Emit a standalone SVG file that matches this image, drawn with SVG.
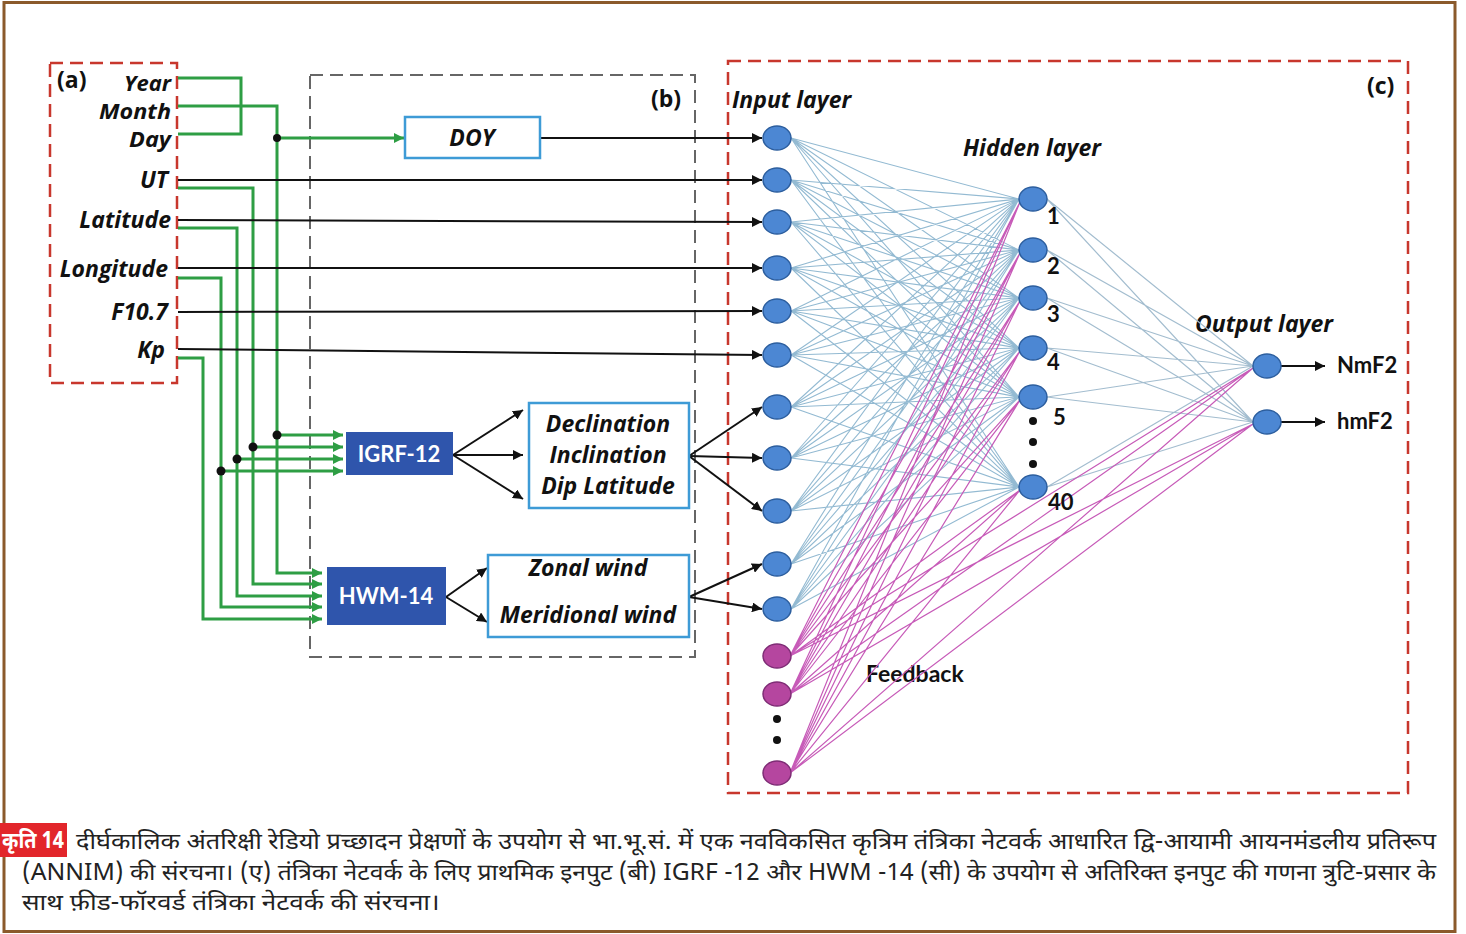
<svg xmlns="http://www.w3.org/2000/svg" width="1466" height="934" viewBox="0 0 1466 934">
<defs>
<style>
.lbl{font-family:"Open Sans","Liberation Sans",sans-serif;font-weight:bold;font-style:italic;font-size:23px;fill:#111}
.sm{font-size:20.5px}
.bt{font-family:Lato,"Liberation Sans",sans-serif;font-weight:bold;font-size:22px;fill:#111}
.pl{font-family:"Open Sans","Liberation Sans",sans-serif;font-weight:bold;font-size:23px;fill:#111}
.wt{font-family:Lato,"Liberation Sans",sans-serif;font-weight:bold;font-size:22px;fill:#fff}
.cap{font-family:"Noto Sans Devanagari","Lohit Devanagari","Noto Sans",sans-serif;font-size:23px;fill:#222}
.g{fill:none;stroke:#2E9E44;stroke-width:3}
.k{fill:none;stroke:#111;stroke-width:2}
.redbox{fill:none;stroke:#C8372D;stroke-width:2.5;stroke-dasharray:13 7}
.graybox{fill:none;stroke:#666;stroke-width:2;stroke-dasharray:13 7}
.lb{fill:#fff;stroke:#3E9BD6;stroke-width:2.5}
.db{fill:#2F55AC}
.bn{fill:#4C87D3;stroke:#2C5E9E;stroke-width:1.5}
.pn{fill:#B5469F;stroke:#7E2C75;stroke-width:1.5}
</style>
<marker id="ak" viewBox="0 0 10 10" refX="10" refY="5" markerWidth="5" markerHeight="5" orient="auto" markerUnits="strokeWidth"><path d="M0 0L10 5L0 10z" fill="#111"/></marker>
<marker id="ag" viewBox="0 0 10 10" refX="10" refY="5" markerWidth="3.5" markerHeight="3.5" orient="auto" markerUnits="strokeWidth"><path d="M0 0L10 5L0 10z" fill="#2E9E44"/></marker>
</defs>
<rect x="0" y="0" width="1466" height="934" fill="#fff"/>
<rect x="4" y="2.5" width="1451" height="929" fill="none" stroke="#8B5A2B" stroke-width="3"/>

<!-- boxes -->
<g id="box-a"><rect class="redbox" x="50" y="63" width="127" height="320"/>
<text class="pl" x="57" y="88">(a)</text>
<g text-anchor="end">
<text class="lbl sm" x="171" y="91" textLength="47" lengthAdjust="spacingAndGlyphs">Year</text>
<text class="lbl sm" x="171" y="119" textLength="72" lengthAdjust="spacingAndGlyphs">Month</text>
<text class="lbl sm" x="171" y="147" textLength="42" lengthAdjust="spacingAndGlyphs">Day</text>
<text class="lbl" x="168" y="188">UT</text>
<text class="lbl" x="171" y="228">Latitude</text>
<text class="lbl" x="168" y="277">Longitude</text>
<text class="lbl" x="168" y="320">F10.7</text>
<text class="lbl" x="165" y="358">Kp</text>
</g></g>
<g id="box-b"><rect class="graybox" x="310" y="75" width="385" height="582"/>
<text class="pl" x="651" y="107">(b)</text></g>
<g id="box-c"><rect class="redbox" x="728" y="61" width="680" height="732"/>
<text class="pl" x="1367" y="94">(c)</text>
<text class="lbl" x="732" y="108">Input layer</text>
<text class="lbl" x="963" y="156">Hidden layer</text>
<text class="lbl" x="1195" y="332">Output layer</text>
<text class="bt" x="866" y="682" style="font-size:23px">Feedback</text></g>

<!-- connectors -->
<g id="connectors">
<path d="M791 138L1019 199M791 138L1019 250M791 138L1019 298M791 138L1019 348M791 138L1019 397M791 138L1019 487M791 180L1019 199M791 180L1019 250M791 180L1019 298M791 180L1019 348M791 180L1019 397M791 180L1019 487M791 222L1019 199M791 222L1019 250M791 222L1019 298M791 222L1019 348M791 222L1019 397M791 222L1019 487M791 268L1019 199M791 268L1019 250M791 268L1019 298M791 268L1019 348M791 268L1019 397M791 268L1019 487M791 311L1019 199M791 311L1019 250M791 311L1019 298M791 311L1019 348M791 311L1019 397M791 311L1019 487M791 355L1019 199M791 355L1019 250M791 355L1019 298M791 355L1019 348M791 355L1019 397M791 355L1019 487M791 407L1019 199M791 407L1019 250M791 407L1019 298M791 407L1019 348M791 407L1019 397M791 407L1019 487M791 458L1019 199M791 458L1019 250M791 458L1019 298M791 458L1019 348M791 458L1019 397M791 458L1019 487M791 511L1019 199M791 511L1019 250M791 511L1019 298M791 511L1019 348M791 511L1019 397M791 511L1019 487M791 564L1019 199M791 564L1019 250M791 564L1019 298M791 564L1019 348M791 564L1019 397M791 564L1019 487M791 609L1019 199M791 609L1019 250M791 609L1019 298M791 609L1019 348M791 609L1019 397M791 609L1019 487" fill="none" stroke="#93BAD2" stroke-width="1.1"/>
<path d="M1047 199L1253 366M1047 199L1253 422M1047 250L1253 366M1047 250L1253 422M1047 298L1253 366M1047 298L1253 422M1047 348L1253 366M1047 348L1253 422M1047 397L1253 366M1047 397L1253 422M1047 487L1253 366M1047 487L1253 422" fill="none" stroke="#A3BDCF" stroke-width="1.2"/>
<path d="M790 656L1020 202M790 656L1020 253M790 656L1020 301M790 656L1020 351M790 656L1020 400M790 656L1020 490M790 656L1253 368M790 656L1253 424M790 694L1020 202M790 694L1020 253M790 694L1020 301M790 694L1020 351M790 694L1020 400M790 694L1020 490M790 694L1253 368M790 694L1253 424M790 773L1020 202M790 773L1020 253M790 773L1020 301M790 773L1020 351M790 773L1020 400M790 773L1020 490M790 773L1253 368M790 773L1253 424" fill="none" stroke="#C75BB8" stroke-width="1.2"/>

<path class="g" d="M178 78H241V134H178"/>
<path class="g" d="M178 106H277V573H322" marker-end="url(#ag)"/>
<path class="g" d="M277 138H404" marker-end="url(#ag)"/>
<path class="g" d="M178 188H253V584H322" marker-end="url(#ag)"/>
<path class="g" d="M178 228H237V596H322" marker-end="url(#ag)"/>
<path class="g" d="M178 278H221V607H322" marker-end="url(#ag)"/>
<path class="g" d="M178 358H203V619H322" marker-end="url(#ag)"/>
<path class="g" d="M277 435H343" marker-end="url(#ag)"/>
<path class="g" d="M253 447H343" marker-end="url(#ag)"/>
<path class="g" d="M237 459H343" marker-end="url(#ag)"/>
<path class="g" d="M221 471H343" marker-end="url(#ag)"/>
<g fill="#111"><circle cx="277" cy="138" r="4"/><circle cx="277" cy="435" r="4.5"/><circle cx="253" cy="447" r="4.5"/><circle cx="237" cy="459" r="4.5"/><circle cx="221" cy="471" r="4.5"/></g>

<path class="k" d="M540 138H762" marker-end="url(#ak)"/>
<path class="k" d="M178 180H762" marker-end="url(#ak)"/>
<path class="k" d="M178 220L762 222" marker-end="url(#ak)"/>
<path class="k" d="M178 268H762" marker-end="url(#ak)"/>
<path class="k" d="M178 312L762 311" marker-end="url(#ak)"/>
<path class="k" d="M178 349L762 355" marker-end="url(#ak)"/>
<path class="k" d="M453 455L523 410" marker-end="url(#ak)"/>
<path class="k" d="M453 455H523" marker-end="url(#ak)"/>
<path class="k" d="M453 455L523 499" marker-end="url(#ak)"/>
<path class="k" d="M446 597L487 568" marker-end="url(#ak)"/>
<path class="k" d="M446 597L487 622" marker-end="url(#ak)"/>
<path class="k" d="M689 456L762 407" marker-end="url(#ak)"/>
<path class="k" d="M689 456L762 458" marker-end="url(#ak)"/>
<path class="k" d="M689 456L762 511" marker-end="url(#ak)"/>
<path class="k" d="M689 597L762 564" marker-end="url(#ak)"/>
<path class="k" d="M689 597L762 609" marker-end="url(#ak)"/>
<path class="k" d="M1281 366H1325" marker-end="url(#ak)"/>
<path class="k" d="M1281 422H1325" marker-end="url(#ak)"/>
</g>

<!-- model nodes -->
<g id="doy"><rect class="lb" x="405" y="117" width="135" height="41"/><text class="lbl" x="472" y="146" text-anchor="middle">DOY</text></g>
<g id="igrf"><rect class="db" x="346" y="432" width="107" height="43"/><text class="wt" x="399" y="462" text-anchor="middle">IGRF-12</text></g>
<g id="hwm"><rect class="db" x="327" y="567" width="119" height="58"/><text class="wt" x="386" y="604" text-anchor="middle">HWM-14</text></g>
<g id="igrf-out"><rect class="lb" x="529" y="403" width="160" height="105"/>
<g text-anchor="middle"><text class="lbl" x="608" y="432">Declination</text><text class="lbl" x="608" y="463">Inclination</text><text class="lbl" x="608" y="494">Dip Latitude</text></g></g>
<g id="hwm-out"><rect class="lb" x="488" y="555" width="201" height="82"/>
<g text-anchor="middle"><text class="lbl" x="588" y="576">Zonal wind</text><text class="lbl" x="588" y="623">Meridional wind</text></g></g>

<!-- network nodes -->
<g id="input-layer">
<ellipse class="bn" cx="777" cy="138" rx="14" ry="12"/>
<ellipse class="bn" cx="777" cy="180" rx="14" ry="12"/>
<ellipse class="bn" cx="777" cy="222" rx="14" ry="12"/>
<ellipse class="bn" cx="777" cy="268" rx="14" ry="12"/>
<ellipse class="bn" cx="777" cy="311" rx="14" ry="12"/>
<ellipse class="bn" cx="777" cy="355" rx="14" ry="12"/>
<ellipse class="bn" cx="777" cy="407" rx="14" ry="12"/>
<ellipse class="bn" cx="777" cy="458" rx="14" ry="12"/>
<ellipse class="bn" cx="777" cy="511" rx="14" ry="12"/>
<ellipse class="bn" cx="777" cy="564" rx="14" ry="12"/>
<ellipse class="bn" cx="777" cy="609" rx="14" ry="12"/>
</g>
<g id="feedback-nodes">
<ellipse class="pn" cx="777" cy="656" rx="14" ry="12"/>
<ellipse class="pn" cx="777" cy="694" rx="14" ry="12"/>
<circle cx="777" cy="719" r="4" fill="#111"/><circle cx="777" cy="740" r="4" fill="#111"/>
<ellipse class="pn" cx="777" cy="773" rx="14" ry="12"/>
</g>
<g id="hidden-layer">
<ellipse class="bn" cx="1033" cy="199" rx="14" ry="12"/>
<ellipse class="bn" cx="1033" cy="250" rx="14" ry="12"/>
<ellipse class="bn" cx="1033" cy="298" rx="14" ry="12"/>
<ellipse class="bn" cx="1033" cy="348" rx="14" ry="12"/>
<ellipse class="bn" cx="1033" cy="397" rx="14" ry="12"/>
<ellipse class="bn" cx="1033" cy="487" rx="14" ry="12"/>
<circle cx="1033" cy="421" r="4" fill="#111"/><circle cx="1033" cy="442" r="4" fill="#111"/><circle cx="1033" cy="464" r="4" fill="#111"/>
<text class="bt" x="1047" y="224">1</text>
<text class="bt" x="1047" y="274">2</text>
<text class="bt" x="1047" y="322">3</text>
<text class="bt" x="1047" y="370">4</text>
<text class="bt" x="1053" y="425">5</text>
<text class="bt" x="1048" y="510">40</text>
</g>
<g id="output-layer">
<ellipse class="bn" cx="1267" cy="366" rx="14" ry="12"/>
<ellipse class="bn" cx="1267" cy="422" rx="14" ry="12"/>
<text class="bt" x="1337" y="373">NmF2</text>
<text class="bt" x="1337" y="429">hmF2</text>
</g>

<!-- caption -->
<g id="caption">
<rect x="0" y="823" width="67" height="34" fill="#E2262B"/>
<text class="cap" x="33" y="848" text-anchor="middle" textLength="62" lengthAdjust="spacingAndGlyphs" style="fill:#fff;font-weight:bold">कृति 14</text>
<text class="cap" x="76" y="849" textLength="1360" lengthAdjust="spacingAndGlyphs">दीर्घकालिक अंतरिक्षी रेडियो प्रच्छादन प्रेक्षणों के उपयोग से भा.भू.सं. में एक नवविकसित कृत्रिम तंत्रिका नेटवर्क आधारित द्वि-आयामी आयनमंडलीय प्रतिरूप</text>
<text class="cap" x="22" y="880" textLength="1414" lengthAdjust="spacingAndGlyphs">(ANNIM) की संरचना। (ए) तंत्रिका नेटवर्क के लिए प्राथमिक इनपुट (बी) IGRF -12 और HWM -14 (सी) के उपयोग से अतिरिक्त इनपुट की गणना त्रुटि-प्रसार के</text>
<text class="cap" x="22" y="910" textLength="418" lengthAdjust="spacingAndGlyphs">साथ फ़ीड-फॉरवर्ड तंत्रिका नेटवर्क की संरचना।</text>
</g>
</svg>
